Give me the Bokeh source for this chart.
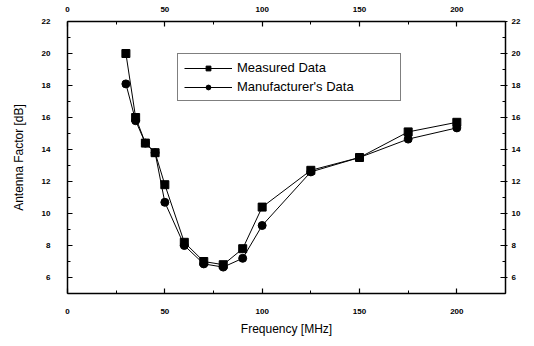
from bokeh.plotting import figure
from bokeh.models import LinearAxis, FixedTicker, Range1d, Legend, LegendItem
from bokeh.embed import file_html
from bokeh.resources import INLINE

freq = [30, 35, 40, 45, 50, 60, 70, 80, 90, 100, 125, 150, 175, 200]
measured = [20.0, 16.0, 14.4, 13.8, 11.8, 8.2, 7.0, 6.8, 7.8, 10.4, 12.7, 13.5, 15.1, 15.7]
manufacturer = [18.1, 15.8, 14.4, 13.8, 10.7, 8.0, 6.85, 6.65, 7.2, 9.25, 12.6, 13.5, 14.65, 15.35]

x_major = [0, 50, 100, 150, 200]
x_minor = [25, 75, 125, 175, 225]
y_major = [6, 8, 10, 12, 14, 16, 18, 20, 22]
y_minor = [5, 7, 9, 11, 13, 15, 17, 19, 21]

FONT = "Liberation Sans"

p = figure(width=526, height=338, output_backend="svg", toolbar_location=None,
           x_range=Range1d(0, 225), y_range=Range1d(5, 22),
           frame_width=438, frame_height=272,
           min_border_left=67, min_border_right=21, min_border_top=21, min_border_bottom=45,
           x_axis_label="Frequency [MHz]", y_axis_label="Antenna Factor [dB]")
p.grid.visible = False
p.outline_line_color = None
p.background_fill_color = "white"
p.border_fill_color = "white"

def style(ax, ticks, minor):
    ax.ticker = FixedTicker(ticks=ticks, minor_ticks=minor)
    ax.axis_line_color = "black"
    ax.axis_line_width = 1.5
    ax.major_tick_line_color = "black"
    ax.minor_tick_line_color = "black"
    ax.major_tick_line_width = 1.2
    ax.minor_tick_line_width = 1
    ax.major_tick_in = 5
    ax.major_tick_out = 0
    ax.minor_tick_in = 3
    ax.minor_tick_out = 0
    ax.major_label_text_font = FONT
    ax.major_label_text_font_size = "8px"
    ax.major_label_text_font_style = "bold"
    ax.major_label_text_color = "black"
    ax.axis_label_text_font = FONT
    ax.axis_label_text_font_size = "12px"
    ax.axis_label_text_font_style = "normal"
    ax.axis_label_text_color = "black"

style(p.xaxis[0], x_major, x_minor)
style(p.yaxis[0], y_major, y_minor)
p.xaxis[0].major_label_standoff = 15
p.xaxis[0].axis_label_standoff = 5
p.yaxis[0].major_label_standoff = 17
p.yaxis[0].axis_label_standoff = 13

top = LinearAxis()
style(top, x_major, x_minor)
top.major_label_standoff = 10
p.add_layout(top, "above")

right = LinearAxis()
style(right, y_major, y_minor)
right.major_tick_out = 2
right.major_label_standoff = 4
p.add_layout(right, "right")

l1 = p.line(freq, measured, line_color="black", line_width=1)
s1 = p.scatter(freq, measured, marker="square", size=8, fill_color="black", line_color="black")
l2 = p.line(freq, manufacturer, line_color="black", line_width=1)
s2 = p.scatter(freq, manufacturer, marker="circle", size=8, fill_color="black", line_color="black")

legend = Legend(items=[LegendItem(label="Measured Data", renderers=[l1, s1]),
                       LegendItem(label="Manufacturer's Data", renderers=[l2, s2])],
                location=(110, 192))
legend.border_line_color = "black"
legend.border_line_width = 1
legend.background_fill_alpha = 1
legend.label_text_font = FONT
legend.label_text_font_size = "13px"
legend.label_text_color = "black"
legend.glyph_width = 48
legend.glyph_height = 12
legend.spacing = 4
legend.padding = 6
legend.margin = 0
legend.label_standoff = 5
legend.label_width = 157
legend.label_height = 12
p.add_layout(legend, "center")

open("out.html", "w").write(file_html(p, INLINE))
